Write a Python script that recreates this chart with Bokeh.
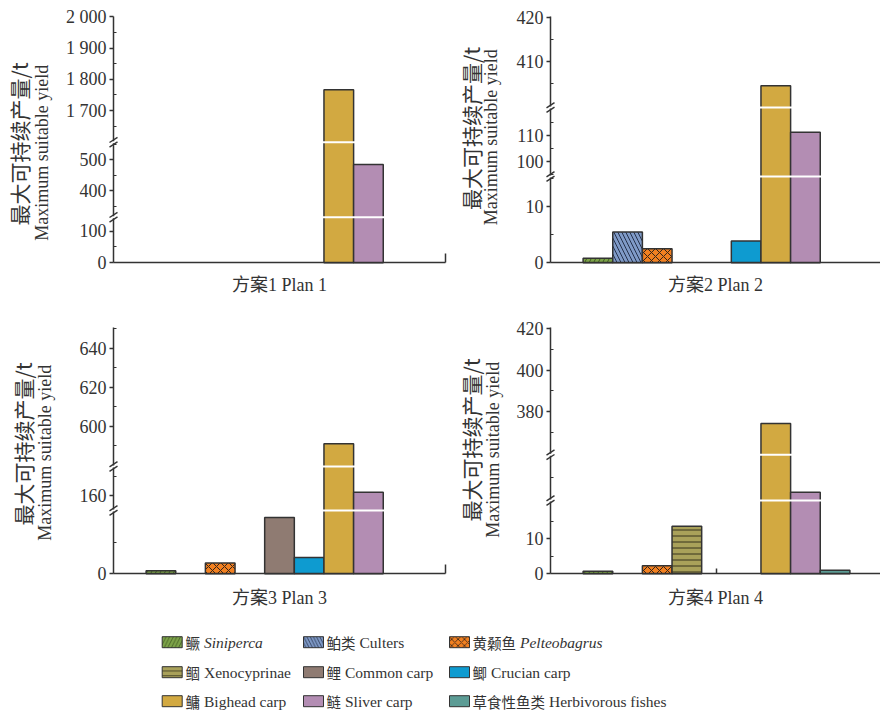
import math
from bokeh.plotting import figure
from bokeh.layouts import column, row
from bokeh.models import (Range1d, FixedTicker, CustomJSTickFormatter, BoxAnnotation,
                          Label, ColumnDataSource)
from bokeh.core.properties import value
from bokeh.embed import file_html
from bokeh.resources import INLINE

# ---------------- data ----------------
species_cn = ["鳜", "鲌类", "黄颡鱼", "鲴", "鲤", "鲫", "鳙", "鲢", "草食性鱼类"]
species_en = ["Siniperca", "Culters", "Pelteobagrus", "Xenocyprinae", "Common carp",
              "Crucian carp", "Bighead carp", "Sliver carp", "Herbivorous fishes"]
species_italic = [True, False, True, False, False, False, False, False, False]

plan1 = [0, 0, 0, 0, 0, 0, 1767, 485, 0]
plan2 = [0.8, 5.5, 2.5, 0, 0, 3.9, 404.6, 111.4, 0]
plan3 = [4.7, 0, 17.4, 0, 90.5, 26.2, 591, 161.7, 0]
plan4 = [0.7, 0, 2.3, 13.6, 0, 0, 374.3, 100, 1.0]
plans = [plan1, plan2, plan3, plan4]

plan_titles = ["方案1 Plan 1", "方案2 Plan 2", "方案3 Plan 3", "方案4 Plan 4"]
y_title_cn = "最大可持续产量/t"
y_title_en = "Maximum suitable yield"

# y-axis tick values (major labelled, minor unlabelled) per plan
major1 = [0, 100, 400, 500, 1700, 1800, 1900, 2000]
major2 = [0, 10, 100, 110, 410, 420]
major3 = [0, 160, 600, 620, 640]
major4 = [0, 10, 380, 400, 420]
minor1 = [50, 350, 450, 550, 1650, 1750, 1850, 1950]
minor2 = [5, 15, 95, 105, 115, 405, 415]
minor3 = [50, 170, 590, 610, 630, 650]
minor4 = [5, 15, 110, 370, 390, 410]
majors = [major1, major2, major3, major4]
minors = [minor1, minor2, minor3, minor4]

# broken-axis segments: value ranges shown by each piece of the axis
segs1 = [(0, 141), (318, 553.5), (1602, 2000)]
segs2 = [(0, 15.23), (94.73, 120.5), (399.9, 420.16)]
segs3 = [(0, 100), (152.8, 174.4), (579.8, 650.5)]
segs4 = [(0, 20.66), (95, 125), (359.6, 420.5)]
segs = [segs1, segs2, segs3, segs4]

# ---------------- layout / style ----------------
AXIS_H = 246                      # drawn height of the y axis (px)
# pixel bands (from the x axis upward) occupied by each axis piece
bands = [
    [(0, 44.6), (46.6, 119.6), (121.6, 246)],
    [(0, 85.3), (87.3, 154.3), (156.3, 246)],
    [(0, 62.3), (64.3, 106.3), (108.3, 246)],
    [(0, 72.3), (74.3, 118), (120, 246)],
]
PX_PER_UNIT = 332 / 11.2
X_START = -1.6

FILL = ["#7DA349", "#7F9AC7", "#F28020", "#A9A15A", "#8F7B72",
        "#0E9BD0", "#D2A941", "#B38DB3", "#5C9C95"]
HATCH = ["/", "\\", "x", "-", " ", " ", " ", " ", " "]
HATCH_COLOR = ["#3f5a22", "#26324d", "#33241a", "#35321c", "#333333",
               "#333333", "#333333", "#333333", "#333333"]
HATCH_SCALE = [9, 8, 8, 6, 12, 12, 12, 12, 12]
EDGE = "#333333"
TXT = "#333333"
SERIF = "Liberation Serif"
CJK = "Noto Sans CJK SC"
MIXED = "'Liberation Serif', 'Noto Sans CJK SC'"

# per-panel geometry (px)
fig_w = [447, 433, 447, 433]
fig_h = [310, 310, 300, 300]
axis_left = [113, 103, 113, 103]      # y axis distance from figure left
xaxis_len = [332, 330, 332, 330]      # drawn x axis length
below_pad = [47.7, 47.7, 36.7, 36.7]  # space under the x axis
xlabel_standoff = [12, 12, 14, 14]
title_mid_cn = [119, 134.5, 130, 134]
title_mid_en = [110, 125.5, 121, 124]
title_off_cn = [-94.7, -80, -90.5, -80]
title_off_en = [-72, -59.5, -69, -57.5]
x_end_tick = [9, 0, 9, 0]
x_mid_tick = [None, None, None, 4.0]


def to_disp(v, sg, bd):
    for (v0, v1), (d0, d1) in zip(sg, bd):
        if v0 - 1e-9 <= v <= v1 + 1e-9:
            return d0 + (v - v0) * (d1 - d0) / (v1 - v0)
    raise ValueError(v)


def fmt(v):
    return f"{int(v):,}".replace(",", " ")


def make_panel(i):
    vals, sg, bd = plans[i], segs[i], bands[i]
    x0 = X_START - axis_left[i] / PX_PER_UNIT
    x1 = x0 + fig_w[i] / PX_PER_UNIT
    x_axis_end = X_START + xaxis_len[i] / PX_PER_UNIT
    y0 = -below_pad[i]
    y1 = y0 + fig_h[i]
    p = figure(frame_width=fig_w[i], frame_height=fig_h[i], title=None,
               x_range=Range1d(x0, x1), y_range=Range1d(y0, y1),
               output_backend="svg", toolbar_location=None, min_border=0)
    p.xgrid.visible = False
    p.ygrid.visible = False
    p.outline_line_color = None
    p.background_fill_color = "white"
    p.border_fill_color = "white"

    idx = [k for k, v in enumerate(vals) if v > 0]
    src = ColumnDataSource(dict(
        x=idx,
        top=[to_disp(vals[k], sg, bd) for k in idx],
        fill=[FILL[k] for k in idx],
        hatch=[HATCH[k] for k in idx],
        hcol=[HATCH_COLOR[k] for k in idx],
        hscale=[HATCH_SCALE[k] for k in idx],
    ))
    p.vbar(x="x", top="top", bottom=0, width=1, source=src,
           fill_color="fill", line_color=EDGE, line_width=1.5,
           hatch_pattern="hatch", hatch_color="hcol", hatch_scale="hscale",
           hatch_weight=1)

    # white break lines across the plot and the axis
    dx = 1 / PX_PER_UNIT
    for (a0, a1), (b0, b1) in zip(bd[:-1], bd[1:]):
        p.add_layout(BoxAnnotation(bottom=a1, top=b0, left=X_START - 2 * dx, right=x_axis_end,
                                   fill_color="white", fill_alpha=1.0, line_alpha=0,
                                   level="annotation"))
    # break marks: two short slanted strokes on the axis
    bx0, bx1, by0, by1 = [], [], [], []
    for (a0, a1), (b0, b1) in zip(bd[:-1], bd[1:]):
        for yc in (a1 - 1.3, b0 + 1.3):
            bx0.append(X_START - 4 * dx)
            bx1.append(X_START + 4 * dx)
            by0.append(yc - 2.6)
            by1.append(yc + 2.6)
    p.segment(x0=bx0, y0=by0, x1=bx1, y1=by1, line_color=EDGE, line_width=1.4,
              level="overlay")

    # y axis
    ya = p.yaxis[0]
    ya.fixed_location = X_START
    ya.bounds = (0, AXIS_H)
    maj_pos = [to_disp(v, sg, bd) for v in majors[i]]
    ya.ticker = FixedTicker(ticks=maj_pos,
                            minor_ticks=[to_disp(v, sg, bd) for v in minors[i]])
    ya.formatter = CustomJSTickFormatter(
        args=dict(pos=maj_pos, lab=[fmt(v) for v in majors[i]]),
        code="""
        for (let j = 0; j < pos.length; j++) {
            if (Math.abs(pos[j] - tick) < 1e-6) { return lab[j]; }
        }
        return "";
        """)
    ya.axis_line_color = EDGE
    ya.axis_line_width = 1.5
    ya.major_tick_line_color = EDGE
    ya.major_tick_line_width = 1.5
    ya.minor_tick_line_color = EDGE
    ya.minor_tick_line_width = 1.2
    ya.major_tick_in = 0
    ya.major_tick_out = 4
    ya.minor_tick_in = 3
    ya.minor_tick_out = 0
    ya.major_label_standoff = 3
    ya.major_label_text_font = SERIF
    ya.major_label_text_font_size = "18px"
    ya.major_label_text_color = TXT

    # x axis
    xa = p.xaxis[0]
    xa.fixed_location = 0
    xa.bounds = (X_START, x_axis_end)
    mt = []
    if x_end_tick[i]:
        mt.append(x_axis_end)
    if x_mid_tick[i] is not None:
        mt.append(x_mid_tick[i])
    xa.ticker = FixedTicker(ticks=[], minor_ticks=mt)
    xa.axis_line_color = EDGE
    xa.axis_line_width = 1.5
    xa.minor_tick_line_color = EDGE
    xa.minor_tick_line_width = 1.5
    xa.minor_tick_in = x_end_tick[i] if x_end_tick[i] else 5
    xa.minor_tick_out = 0
    xa.major_tick_in = 0
    xa.major_tick_out = 0
    xa.axis_label = plan_titles[i]
    xa.axis_label_text_font = MIXED
    xa.axis_label_text_font_size = "18px"
    xa.axis_label_text_font_style = "normal"
    xa.axis_label_text_color = TXT
    xa.axis_label_standoff = xlabel_standoff[i]

    # y titles (two lines, two fonts)
    p.add_layout(Label(x=X_START, y=title_mid_cn[i], x_offset=title_off_cn[i],
                       text=y_title_cn, angle=math.pi / 2, text_align="center",
                       text_baseline="middle", text_font=CJK,
                       text_font_size="21px", text_color=TXT))
    p.add_layout(Label(x=X_START, y=title_mid_en[i], x_offset=title_off_en[i],
                       text=y_title_en, angle=math.pi / 2, text_align="center",
                       text_baseline="middle", text_font=SERIF,
                       text_font_size="18px", text_color=TXT))
    return p


panels = [make_panel(i) for i in range(4)]

# ---------------- legend ----------------
LG_W, LG_H = 880, 102
lg = figure(frame_width=LG_W, frame_height=LG_H, x_range=Range1d(0, LG_W),
            y_range=Range1d(LG_H, 0), min_border=0, title=None,
            output_backend="svg", toolbar_location=None,
            x_axis_type=None, y_axis_type=None)
lg.outline_line_color = None
lg.grid.visible = False

col_sw = [161.7, 303, 449]
col_tx = [185, 326, 472]
row_y = [31.7, 61.7, 90.7]
SW_W, SW_H = 20, 11
CN_FS = 14.5

n = len(species_cn)
sw_x = [col_sw[k % 3] + SW_W / 2 for k in range(n)]
ys = [row_y[k // 3] for k in range(n)]
lg.rect(x=sw_x, y=ys, width=SW_W, height=SW_H, fill_color=FILL, line_color=EDGE,
        line_width=1, hatch_pattern=HATCH, hatch_color=HATCH_COLOR,
        hatch_scale=[s * 0.8 for s in HATCH_SCALE], hatch_weight=0.8)
cn_x = [col_tx[k % 3] for k in range(n)]
lg.text(x=cn_x, y=ys, text=species_cn, text_font=value(CJK),
        text_font_size=value(f"{CN_FS}px"), text_baseline="middle", text_align="left",
        text_color=TXT)
en_x = [col_tx[k % 3] + len(species_cn[k]) * CN_FS + 4 for k in range(n)]
lg.text(x=en_x, y=ys, text=species_en, text_font=value(SERIF),
        text_font_size=value("15.5px"), text_baseline="middle", text_align="left",
        text_font_style=["italic" if it else "normal" for it in species_italic],
        text_color=TXT)

layout = column(row(panels[0], panels[1], spacing=0),
                row(panels[2], panels[3], spacing=0),
                lg, spacing=0)

open("out.html", "w").write(file_html(layout, INLINE))
